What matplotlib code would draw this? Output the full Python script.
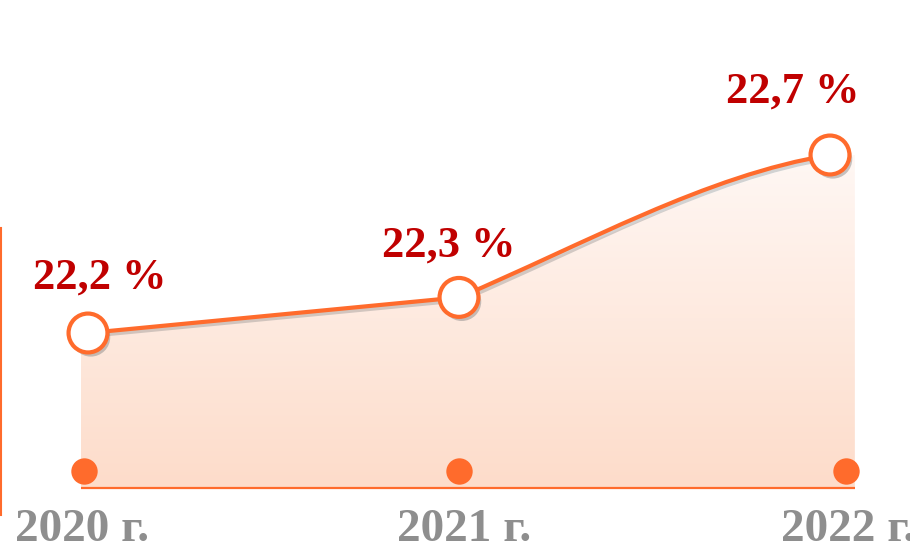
import numpy as np
import matplotlib
matplotlib.use("Agg")
import matplotlib.pyplot as plt
from matplotlib.path import Path
from matplotlib.patches import PathPatch
import matplotlib.patheffects as pe
from matplotlib.transforms import blended_transform_factory
from matplotlib.colors import LinearSegmentedColormap

# ---- data ----
years = ["2020 г.", "2021 г.", "2022 г."]
values = [22.2, 22.3, 22.7]
value_labels = ["22,2 %", "22,3 %", "22,7 %"]

# ---- style ----
ORANGE = "#FF6B2C"
DARKRED = "#C00000"
GRAY = "#8E8E8E"
FONT = "Liberation Serif"

W, H = 910, 559
fig = plt.figure(figsize=(W / 100, H / 100), dpi=100)
ax = fig.add_axes([0, 0, 1, 1])
unit = 371.0
ax.set_xlim(-88 / unit, (W - 88) / unit)
ax.set_ylim(22.2 - (H - 333) / 356.0, 22.2 + 333 / 356.0)
ax.axis("off")

xs = np.arange(len(values), dtype=float)
# area series is slightly wider than the line series (category offsets)
area_x = xs + np.array([-0.019, 0.0, 0.067])
dot_x = xs + np.array([-0.011, 0.0, 0.043])
label_x = xs + np.array([-0.016, 0.013, 0.05])

# per-segment tangent factors (start, end) relative to chord slope
seg_tension = [(1.0, 1.0), (1.1, 0.42)]


def smooth_path(px, py, close_to=None):
    pts = np.column_stack([px, py]).astype(float)
    n = len(pts)
    verts = [pts[0]]
    codes = [Path.MOVETO]
    for i in range(n - 1):
        p1, p2 = pts[i], pts[i + 1]
        d = p2 - p1
        a, b = seg_tension[i]
        c1 = p1 + np.array([d[0] / 3, a * d[1] / 3])
        c2 = p2 - np.array([d[0] / 3, b * d[1] / 3])
        verts += [c1, c2, p2]
        codes += [Path.CURVE4] * 3
    if close_to is not None:
        verts += [(px[-1], close_to), (px[0], close_to), pts[0]]
        codes += [Path.LINETO, Path.LINETO, Path.CLOSEPOLY]
    return Path(np.array(verts), codes)


base = 22.2 - (488 - 333) / 356.0

# gradient area
area_path = smooth_path(area_x, values, close_to=base)
patch = PathPatch(area_path, facecolor="none", edgecolor="none")
ax.add_patch(patch)
grad = np.linspace(0, 1, 256).reshape(-1, 1)
cmap = LinearSegmentedColormap.from_list("g", ["#FDDCCA", "#FFF8F5"])
top = max(values) + 0.02
im = ax.imshow(grad, aspect="auto", cmap=cmap, origin="lower",
               extent=[area_x[0], area_x[-1], base, top], zorder=1)
im.set_clip_path(patch)

# baseline
ax.plot([area_x[0], area_x[-1]], [base, base], color=ORANGE, lw=1.6, zorder=2,
        solid_capstyle="butt")

# bottom dots
trans = blended_transform_factory(ax.transData, ax.transAxes)
ax.plot(dot_x, [1 - 471 / H] * 3, "o", color=ORANGE, ms=19, transform=trans,
        zorder=3, mec="none")

# smooth line
line_path = smooth_path(xs, values)
lp = PathPatch(line_path, facecolor="none", edgecolor=ORANGE, lw=3.0, zorder=4,
               path_effects=[pe.SimpleLineShadow(offset=(1.5, -2), shadow_color="gray", alpha=0.35),
                             pe.Normal()])
ax.add_patch(lp)

# markers
ax.plot(xs, values, "o", ms=28, mfc="white", mec=ORANGE, mew=3.0, zorder=5,
        path_effects=[pe.SimplePatchShadow(offset=(2, -3), shadow_rgbFace="gray", alpha=0.45),
                      pe.Normal()])

# value labels
offsets = [(12, 55), (-10, 52), (-37, 63)]
for x, v, lab, (dx, dy) in zip(xs, values, value_labels, offsets):
    ax.annotate(lab, (x, v), xytext=(dx * 0.72, dy * 0.72), textcoords="offset points",
                ha="center", va="center", color=DARKRED, fontsize=32,
                fontweight="bold", family=FONT, zorder=6)

# x labels
for x, lab in zip(label_x, years):
    ax.text(x, 1 - 530 / H, lab, transform=trans, ha="center", va="center",
            color=GRAY, fontsize=34, fontweight="bold", family=FONT)

# left vertical line
ax.plot([1.0 / W, 1.0 / W], [1 - 515 / H, 1 - 228 / H], color=ORANGE, lw=1.5,
        transform=ax.transAxes)

fig.savefig("out.png", dpi=100)
